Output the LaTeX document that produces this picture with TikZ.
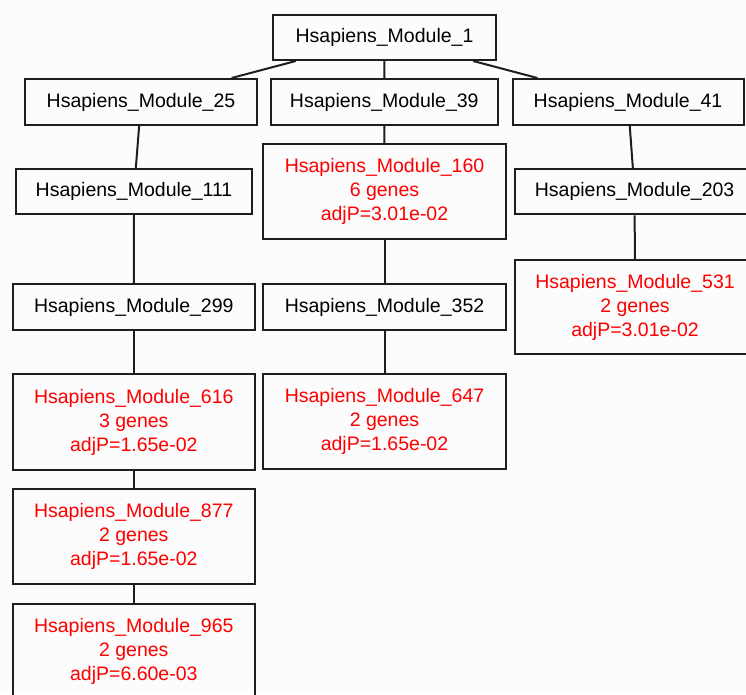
\documentclass[tikz,border=0pt]{standalone}
\usepackage{fontspec}
\setmainfont{Liberation Sans}
\definecolor{bgpage}{RGB}{251,252,251}
\definecolor{hitred}{RGB}{255,0,0}
\definecolor{inkline}{RGB}{30,30,30}
\tikzset{
  modbox/.style={draw=inkline, line width=2pt, rectangle, inner sep=0pt,
    align=center, font=\fontsize{19.5}{24}\selectfont, text=black},
  hitbox/.style={modbox, text=hitred},
  link/.style={draw=inkline, line width=2pt},
}
\begin{document}
\begin{tikzpicture}[x=1pt,y=-1pt]
  \useasboundingbox (0,0) rectangle (746,694);
  \fill[bgpage] (0,0) rectangle (746,694);
  \clip (0,0) rectangle (746,694);

  % level 0
  \node[modbox, minimum width=223pt, minimum height=45pt] (m1) at (384.5,37.5) {Hsapiens\_Module\_1};
  % level 1
  \node[modbox, minimum width=232pt, minimum height=46pt] (m25) at (141,102) {Hsapiens\_Module\_25};
  \node[modbox, minimum width=227pt, minimum height=46pt] (m39) at (384.3,102) {Hsapiens\_Module\_39};
  \node[modbox, minimum width=231pt, minimum height=46pt] (m41) at (628,102) {Hsapiens\_Module\_41};
  % level 2
  \node[modbox, minimum width=236.6pt, minimum height=45pt] (m111) at (134,191.5) {Hsapiens\_Module\_111};
  \node[hitbox, minimum width=242.4pt, minimum height=95pt] (m160) at (384.5,191.7) {Hsapiens\_Module\_160\\6 genes\\adjP=3.01e-02};
  \node[modbox, minimum width=240pt, minimum height=45pt] (m203) at (634.6,191.8) {Hsapiens\_Module\_203};
  % level 3
  \node[modbox, minimum width=242.3pt, minimum height=45.7pt] (m299) at (133.8,307.2) {Hsapiens\_Module\_299};
  \node[modbox, minimum width=242.4pt, minimum height=46pt] (m352) at (384.5,307) {Hsapiens\_Module\_352};
  \node[hitbox, minimum width=240.6pt, minimum height=94.3pt] (m531) at (635,307.2) {Hsapiens\_Module\_531\\2 genes\\adjP=3.01e-02};
  % level 4
  \node[hitbox, minimum width=242.3pt, minimum height=95.7pt] (m616) at (133.8,422.2) {Hsapiens\_Module\_616\\3 genes\\adjP=1.65e-02};
  \node[hitbox, minimum width=242.4pt, minimum height=95pt] (m647) at (384.5,421.8) {Hsapiens\_Module\_647\\2 genes\\adjP=1.65e-02};
  % level 5 and 6
  \node[hitbox, minimum width=242.3pt, minimum height=95.3pt] (m877) at (133.8,536.7) {Hsapiens\_Module\_877\\2 genes\\adjP=1.65e-02};
  \node[hitbox, minimum width=242.3pt, minimum height=95pt] (m965) at (133.8,651.5) {Hsapiens\_Module\_965\\2 genes\\adjP=6.60e-03};

  % tree edges
  \draw[link] (m1) -- (m25);
  \draw[link] (m1) -- (m39);
  \draw[link] (m1) -- (m41);
  \draw[link] (m25) -- (m111);
  \draw[link] (m111) -- (m299);
  \draw[link] (m299) -- (m616);
  \draw[link] (m616) -- (m877);
  \draw[link] (m877) -- (m965);
  \draw[link] (m39) -- (m160);
  \draw[link] (m160) -- (m352);
  \draw[link] (m352) -- (m647);
  \draw[link] (m41) -- (m203);
  \draw[link] (m203) -- (m531);
\end{tikzpicture}
\end{document}
